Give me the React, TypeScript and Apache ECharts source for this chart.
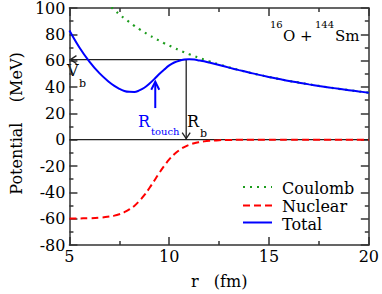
import React, { useEffect, useRef } from "react";
import * as echarts from "echarts";

const rValues = [5, 5.5, 6, 6.5, 7, 7.25, 7.5, 7.75, 8, 8.25, 8.5, 8.75, 9, 9.25, 9.5, 9.75, 10, 10.25, 10.5, 10.75, 11, 11.25, 11.5, 11.75, 12, 12.5, 13, 13.5, 14, 14.5, 15, 15.5, 16, 16.5, 17, 17.5, 18, 18.5, 19, 19.5, 20];
const coulomb = [142.8, 129.8, 119.0, 109.8, 102.0, 98.5, 95.2, 92.1, 89.3, 86.5, 84.0, 81.6, 79.3, 77.2, 75.2, 73.2, 71.4, 69.7, 68.0, 66.4, 64.9, 63.5, 62.1, 60.8, 59.5, 57.1, 54.9, 52.9, 51.0, 49.2, 47.6, 46.1, 44.6, 43.3, 42.0, 40.8, 39.7, 38.6, 37.6, 36.6, 35.7];
const nuclear = [-59.9, -59.8, -59.7, -59.3, -58.4, -57.7, -56.6, -55.1, -53.0, -50.3, -46.6, -42.2, -36.9, -31.2, -25.3, -19.9, -15.0, -11.1, -8.0, -5.6, -3.9, -2.7, -1.9, -1.3, -0.9, -0.4, -0.2, -0.1, -0.04, 0, 0, 0, 0, 0, 0, 0, 0, 0, 0, 0, 0];
const total = [82.9, 70.0, 59.3, 50.5, 43.6, 40.8, 38.6, 37.0, 36.3, 36.2, 37.4, 39.4, 42.4, 46.0, 49.9, 53.3, 56.4, 58.6, 60.0, 60.8, 61.0, 60.8, 60.2, 59.5, 58.6, 56.7, 54.7, 52.8, 51.0, 49.2, 47.6, 46.1, 44.6, 43.3, 42.0, 40.8, 39.7, 38.6, 37.6, 36.6, 35.7];

const seriesNames = ["Coulomb", "Nuclear", "Total"];
const xTicks = { min: 5, max: 20, interval: 5 };
const yTicks = { min: -80, max: 100, interval: 20 };
const barrier = { rB: 10.85, vB: 60.8 };
const touchArrow = { r: 9.3, from: 24, to: 44 };

const FONT = "DejaVu Serif";
const AXIS_COLOR = "#333";

export default function App() {
  const ref = useRef<HTMLDivElement>(null);

  useEffect(() => {
    if (!ref.current) return;
    const chart = echarts.init(ref.current, undefined, { renderer: "svg" });

    const pairs = (vals: number[]) => rValues.map((r, i) => [r, vals[i]]);

    const axisCommon = {
      axisLine: { show: true, onZero: false, lineStyle: { color: AXIS_COLOR, width: 1.5 } },
      axisTick: { show: true, inside: true, length: 8, lineStyle: { color: AXIS_COLOR, width: 1.5 } },
      minorTick: { show: true, splitNumber: 2, length: 4, lineStyle: { color: AXIS_COLOR, width: 1.5 } },
      splitLine: { show: false },
    };

    const annotation = {
      type: "custom",
      coordinateSystem: "cartesian2d",
      silent: true,
      z: 1,
      data: [[barrier.rB, barrier.vB]],
      renderItem: (_params: any, api: any) => {
        const z0 = api.coord([xTicks.min, 0]);
        const z1 = api.coord([xTicks.max, 0]);
        const bL = api.coord([xTicks.min, barrier.vB]);
        const bP = api.coord([barrier.rB, barrier.vB]);
        const bB = api.coord([barrier.rB, 0]);
        const tB = api.coord([touchArrow.r, touchArrow.from]);
        const tT = api.coord([touchArrow.r, touchArrow.to]);
        const blk = { stroke: "#222", lineWidth: 1.3, fill: "none" };
        const blu = { stroke: "#0000ff", lineWidth: 2, fill: "none" };
        return {
          type: "group",
          children: [
            { type: "line", shape: { x1: z0[0], y1: z0[1], x2: z1[0], y2: z1[1] }, style: blk },
            { type: "line", shape: { x1: bL[0], y1: bL[1], x2: bP[0], y2: bP[1] }, style: blk },
            { type: "polyline", shape: { points: [[bL[0] + 7, bL[1] - 4], [bL[0] + 1, bL[1]], [bL[0] + 7, bL[1] + 4]] }, style: blk },
            { type: "line", shape: { x1: bP[0], y1: bP[1], x2: bB[0], y2: bB[1] }, style: blk },
            { type: "polyline", shape: { points: [[bB[0] - 4, bB[1] - 7], [bB[0], bB[1] - 1], [bB[0] + 4, bB[1] - 7]] }, style: blk },
            { type: "line", shape: { x1: tB[0], y1: tB[1], x2: tT[0], y2: tT[1] }, style: blu },
            { type: "polyline", shape: { points: [[tT[0] - 4, tT[1] + 8], [tT[0], tT[1]], [tT[0] + 4, tT[1] + 8]] }, style: blu },
          ],
        };
      },
    };

    const txt = (x: number, y: number, text: string, size: number, fill = "#000") => ({
      type: "text",
      x,
      y,
      style: { text, fill, fontFamily: FONT, fontSize: size, textAlign: "left", textVerticalAlign: "middle" },
    });
    const legendLine = (y: number, color: string, dash: any) => ({
      type: "line",
      shape: { x1: 243, y1: y, x2: 272, y2: y },
      style: { stroke: color, lineWidth: 2, lineDash: dash },
    });

    chart.setOption({
      animation: false,
      backgroundColor: "#fff",
      textStyle: { fontFamily: FONT },
      grid: { left: 62, right: 11, top: 8, bottom: 48, containLabel: false },
      xAxis: [
        {
          type: "value",
          ...xTicks,
          position: "bottom",
          name: "r   (fm)",
          nameLocation: "middle",
          nameGap: 28,
          nameTextStyle: { fontFamily: FONT, fontSize: 16, color: "#000" },
          axisLabel: { fontFamily: FONT, fontSize: 16, color: "#000", margin: 3 },
          ...axisCommon,
        },
        {
          type: "value",
          ...xTicks,
          position: "top",
          axisLabel: { show: false },
          ...axisCommon,
        },
      ],
      yAxis: [
        {
          type: "value",
          ...yTicks,
          position: "left",
          name: "Potential    (MeV)",
          nameLocation: "middle",
          nameGap: 38,
          nameRotate: 90,
          nameTextStyle: { fontFamily: FONT, fontSize: 16, color: "#000", padding: [0, 0, 0, 6] },
          axisLabel: { fontFamily: FONT, fontSize: 16, color: "#000", margin: 4 },
          ...axisCommon,
        },
        {
          type: "value",
          ...yTicks,
          position: "right",
          axisLabel: { show: false },
          ...axisCommon,
        },
      ],
      series: [
        annotation,
        {
          name: seriesNames[0],
          type: "line",
          data: pairs(coulomb),
          smooth: 0.4,
          showSymbol: false,
          clip: true,
          z: 2,
          lineStyle: { color: "#1c9c1c", width: 2.2, type: [2, 5] },
        },
        {
          name: seriesNames[1],
          type: "line",
          data: pairs(nuclear),
          smooth: 0.4,
          showSymbol: false,
          clip: true,
          z: 3,
          lineStyle: { color: "#ff0000", width: 2, type: [7, 4] },
        },
        {
          name: seriesNames[2],
          type: "line",
          data: pairs(total),
          smooth: 0.4,
          showSymbol: false,
          clip: true,
          z: 4,
          lineStyle: { color: "#0000ff", width: 2 },
        },
      ],
      graphic: [
        legendLine(187, "#1c9c1c", [2, 5]),
        legendLine(205.5, "#ff0000", [7, 4]),
        legendLine(222.5, "#0000ff", null),
        txt(282, 188, seriesNames[0], 16),
        txt(282, 206.5, seriesNames[1], 16),
        txt(282, 224, seriesNames[2], 16),
        txt(270, 24, "16", 10),
        txt(283, 35.5, "O +", 15),
        txt(315, 24, "144", 10),
        txt(335, 35.5, "Sm", 15),
        txt(67, 70, "V", 16),
        txt(79, 83, "b", 11),
        txt(138, 121.5, "R", 16, "#0000ff"),
        txt(151, 131, "touch", 10, "#0000ff"),
        txt(187, 121.5, "R", 16),
        txt(200, 133, "b", 11),
      ],
    });

    return () => chart.dispose();
  }, []);

  return <div ref={ref} style={{ position: "fixed", left: 0, top: 0, width: 382, height: 294 }} />;
}
